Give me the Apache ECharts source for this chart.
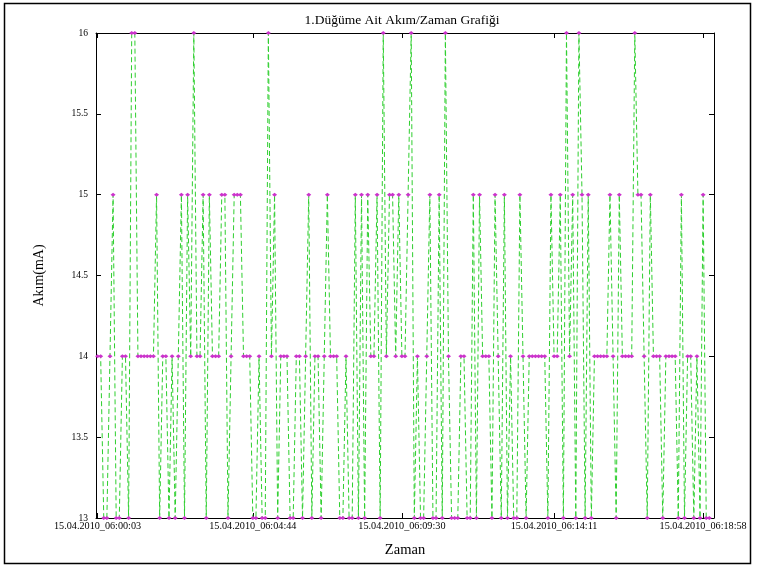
<!DOCTYPE html>
<html>
<head>
<meta charset="utf-8">
<script src="https://cdn.jsdelivr.net/npm/echarts@6/dist/echarts.min.js"></script>
<style>
  html, body { margin: 0; padding: 0; background: #fff; }
  #chart { width: 763px; height: 571px; }
</style>
</head>
<body>
<div id="chart"></div>
<script>
// Node 1 current readings (mA), one per sample, in time order
const currentMa = [
  14,14,13,13,14,15,13,13,14,14, 13,16,16,14,14,14,14,14,14,15,
  13,14,14,13,14,13,14,15,13,15, 14,16,14,14,
  15,13,15,14,14,14,15,15,13,14, 15,15,15,14,14,14,13,13,14,13,
  13,16,14,15,13,14,14,14,13,13, 14,14,
  13,14,15,13,14,14,13,14,15,14, 14,14,13,13,14,13,13,15,13,15,
  13,15,14,14,15,13,16,14,15,15, 14,15,14,14,15,16,13,14,13,13,
  14,15,13,13,15,13,16,14,13,13, 13,14,14,13,13,15,13,15,14,14,
  14,13,15,14,13,15,13,14,13,13, 15,14,13,
  14,14,14,14,14,14,
  13,15,14,14,15,13,
  16,14,15,13,16,15,13,15,13,
  14,14,14,14,14,
  15,14,13,15,
  14,14,14,14,
  16,15,15,14,13,15,
  14,14,14,13,
  14,14,14,14,
  13,15,13,14,14,13,14,13,15,13,13
];

// Sample numbers that carry a timestamp label, and those labels
const tickSamples = [0, 50, 98, 147, 195];
const timeLabels = [
  '15.04.2010_06:00:03',
  '15.04.2010_06:04:44',
  '15.04.2010_06:09:30',
  '15.04.2010_06:14:11',
  '15.04.2010_06:18:58'
];

// Current axis ticks
const yTicks = [13, 13.5, 14, 14.5, 15, 15.5, 16];

const points = currentMa.map((v, i) => [i, v]);

const serif = "'Liberation Serif', 'DejaVu Serif', serif";
const chart = echarts.init(document.getElementById('chart'), null, { renderer: 'canvas' });

const frameLine = { show: true, onZero: false, lineStyle: { color: '#000', width: 1 } };
const innerTick = { show: true, inside: true, length: 5, lineStyle: { color: '#000', width: 1 } };

chart.setOption({
  animation: false,
  backgroundColor: '#fff',
  title: {
    text: '1.Düğüme Ait Akım/Zaman Grafiği',
    left: 397,
    top: 8,
    textAlign: 'center',
    textStyle: { fontFamily: serif, fontSize: 13.5, fontWeight: 'normal', color: '#000' }
  },
  grid: { left: 96, right: 49, top: 33, bottom: 53, containLabel: false },
  xAxis: [
    {
      type: 'value',
      position: 'bottom',
      min: -0.5,
      max: 198.5,
      name: 'Zaman',
      nameLocation: 'middle',
      nameGap: 25,
      nameTextStyle: { fontFamily: serif, fontSize: 14.5, color: '#000' },
      axisLine: frameLine,
      axisTick: Object.assign({}, innerTick, { customValues: tickSamples }),
      axisLabel: {
        customValues: tickSamples,
        fontFamily: serif,
        fontSize: 10.2,
        color: '#000',
        margin: 3,
        formatter: (v) => {
          const k = tickSamples.indexOf(v);
          return k >= 0 ? timeLabels[k] : '';
        }
      },
      splitLine: { show: false }
    },
    {
      type: 'value',
      position: 'top',
      min: -0.5,
      max: 198.5,
      axisLine: frameLine,
      axisTick: Object.assign({}, innerTick, { customValues: tickSamples }),
      axisLabel: { show: false },
      splitLine: { show: false }
    }
  ],
  yAxis: [
    {
      type: 'value',
      position: 'left',
      min: 13,
      max: 16,
      interval: 0.5,
      name: 'Akım(mA)',
      nameLocation: 'middle',
      nameGap: 50,
      nameRotate: 90,
      nameTextStyle: { fontFamily: serif, fontSize: 14, color: '#000' },
      axisLine: frameLine,
      axisTick: innerTick,
      axisLabel: {
        fontFamily: serif,
        fontSize: 9.5,
        color: '#000',
        margin: 8,
        formatter: (v) => (yTicks.indexOf(v) >= 0 ? String(v) : '')
      },
      splitLine: { show: false }
    },
    {
      type: 'value',
      position: 'right',
      min: 13,
      max: 16,
      interval: 0.5,
      axisLine: frameLine,
      axisTick: innerTick,
      axisLabel: { show: false },
      splitLine: { show: false }
    }
  ],
  series: [
    {
      type: 'line',
      xAxisIndex: 0,
      yAxisIndex: 0,
      data: points,
      lineStyle: { color: '#2fcf2f', width: 1, type: [5, 3] },
      symbol: 'diamond',
      symbolSize: [5, 4],
      showSymbol: true,
      showAllSymbol: true,
      itemStyle: { color: '#cc33cc' },
      clip: false,
      z: 2
    }
  ],
  graphic: [
    {
      type: 'rect',
      shape: { x: 4.5, y: 3.5, width: 746, height: 560 },
      style: { fill: 'none', stroke: '#000', lineWidth: 1.5 },
      silent: true,
      z: 100
    }
  ]
});
</script>
</body>
</html>
